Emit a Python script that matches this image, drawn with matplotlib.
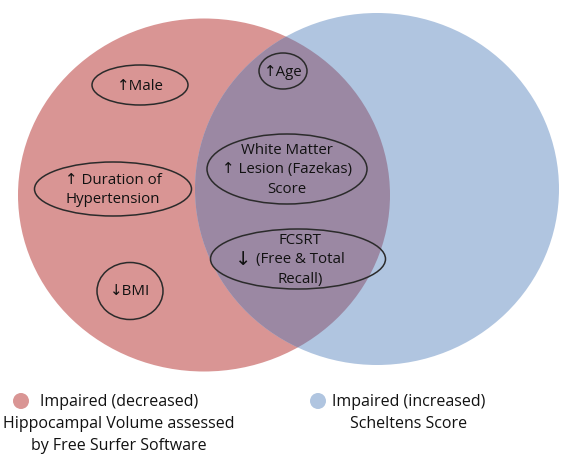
import matplotlib.pyplot as plt
from matplotlib.patches import Ellipse

# --- data ---
groups = [["Impaired (decreased)", "Hippocampal Volume assessed", "by Free Surfer Software"],
          ["Impaired (increased)", "Scheltens Score"]]
hippo_only = ["\u2191Male", "\u2191 Duration of\nHypertension", "\u2193BMI"]
shared = ["\u2191Age", "White Matter\n\u2191 Lesion (Fazekas)\nScore", "FCSRT\n(Free & Total\nRecall)"]

# --- layout (pixel coordinates) ---
RED = "#d99594"
BLUE = "#b0c5e0"
MIX = "#9b88a3"
# (cx, cy, w, h) for the outlined factor ellipses
hippo_boxes = [(140, 86, 96, 40), (113, 190, 157, 54), (130, 292, 66, 57)]
shared_boxes = [(283, 72, 48, 36), (287, 170, 160, 70), (298, 260, 175, 60)]

plt.rcParams['font.family'] = ['Open Sans', 'DejaVu Sans']

fig = plt.figure(figsize=(5.62, 4.56), dpi=100)
ax = fig.add_axes([0, 0, 1, 1])
ax.set_xlim(0, 562)
ax.set_ylim(456, 0)
ax.axis('off')

red = Ellipse((204, 196), 372, 353, facecolor=RED, edgecolor='none', zorder=1)
blue = Ellipse((377, 190), 364, 352, facecolor=BLUE, edgecolor='none', zorder=2)
ax.add_patch(red)
ax.add_patch(blue)
mix = Ellipse((204, 196), 372, 353, facecolor=MIX, edgecolor='none', zorder=3)
ax.add_patch(mix)
mix.set_clip_path(blue)

for (cx, cy, w, h), lab in zip(hippo_boxes + shared_boxes, hippo_only + shared):
    ax.add_patch(Ellipse((cx, cy), w, h, facecolor='none', edgecolor='#2b2b2b',
                         linewidth=1.1, zorder=4))
    if lab.startswith("FCSRT"):
        ax.text(cx + 2, cy, lab, ha='center', va='center', fontsize=10.8,
                color='#111111', linespacing=1.45, zorder=5)
        ax.text(cx - 55, cy, "\u2193", ha='center', va='center', fontsize=14,
                color='#111111', zorder=5, family=['DejaVu Sans'])
    else:
        ax.text(cx, cy, lab, ha='center', va='center', fontsize=10.8,
                color='#111111', linespacing=1.4, zorder=5)

# legend
ax.add_patch(Ellipse((21, 402), 16, 16, facecolor=RED, edgecolor='none'))
ax.add_patch(Ellipse((318, 402), 16, 16, facecolor=BLUE, edgecolor='none'))
for i, line in enumerate(groups[0]):
    ax.text(119, 402 + 22 * i, line, ha='center', va='center', fontsize=11.5,
            color='#111111')
for i, line in enumerate(groups[1]):
    ax.text(409, 402 + 22 * i, line, ha='center', va='center', fontsize=11.5,
            color='#111111')

fig.savefig("out.png", dpi=100)
